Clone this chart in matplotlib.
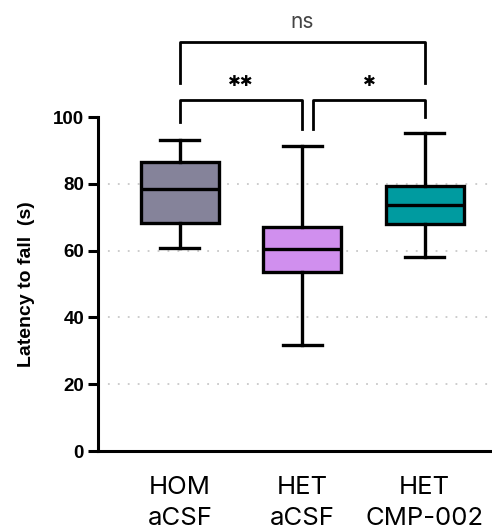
import matplotlib
matplotlib.use("Agg")
import matplotlib.pyplot as plt

groups = ["HOM\naCSF", "HET\naCSF", "HET\nCMP-002"]
whisker_low = [60.7, 31.7, 58.2]
q1 = [68.4, 53.5, 68.0]
median = [78.6, 60.5, 73.6]
q3 = [86.6, 67.2, 79.4]
whisker_high = [93.1, 91.4, 95.1]
colors = ["#85839A", "#D08FEE", "#009BA0"]

# significance brackets: (x1, x2, y_top, left leg end, right leg end, label)
brackets = [
    (0, 1, 105.1, 98.5, 96.4, "✱✱"),
    (1.09, 2, 105.1, 96.4, 100.0, "✱"),
    (0, 2, 122.5, 110.2, 110.2, "ns"),
]

fig = plt.figure(figsize=(4.92, 5.32), dpi=100)
ax = fig.add_axes([0.199, 0.152, 0.801, 0.628])

stats = []
for i, g in enumerate(groups):
    stats.append({"label": g, "whislo": whisker_low[i], "q1": q1[i],
                  "med": median[i], "q3": q3[i], "whishi": whisker_high[i],
                  "fliers": []})

lw = 2.4
bp = ax.bxp(stats, positions=range(len(groups)), widths=0.64,
            patch_artist=True, showfliers=False,
            boxprops=dict(linewidth=lw, edgecolor="black"),
            medianprops=dict(linewidth=lw, color="black"),
            whiskerprops=dict(linewidth=lw, color="black"),
            capprops=dict(linewidth=lw, color="black"),
            capwidths=0.32)
for patch, c in zip(bp["boxes"], colors):
    patch.set_facecolor(c)

ax.set_xlim(-0.67, 2.55)
ax.set_ylim(0, 100)
ax.set_yticks([0, 20, 40, 60, 80, 100])
for y in [20, 40, 60, 80]:
    ax.axhline(y, color="#c8c8c8", linestyle=(0, (1, 4.5)), linewidth=1.3,
               zorder=0)

for side in ["top", "right"]:
    ax.spines[side].set_visible(False)
for side in ["left", "bottom"]:
    ax.spines[side].set_linewidth(2.2)

ax.tick_params(axis="y", length=7, width=2.2, labelsize=13.5, pad=3)
ax.tick_params(axis="x", length=0, pad=18)
for lab in ax.get_yticklabels():
    lab.set_fontweight("bold")
    lab.set_family("Liberation Sans")
ax.set_xticklabels(groups, fontsize=18.5, family="Inter", linespacing=1.42)
ax.set_ylabel("Latency to fall  (s)", fontsize=14, fontweight="bold",
              family="Liberation Sans")
ax.yaxis.set_label_coords(-0.16, 0.5)

for x1, x2, ytop, yl, yr, text in brackets:
    ax.plot([x1, x1, x2, x2], [yl, ytop, ytop, yr], color="black",
            linewidth=2.0, clip_on=False)
    if text == "ns":
        ax.text((x1 + x2) / 2, ytop + 3.0, text, ha="center", va="bottom",
                fontsize=15, color="#444444", family="Inter")
    else:
        ax.text((x1 + x2) / 2, 110.6, text, ha="center", va="center",
                fontsize=11, color="black", family="DejaVu Sans")

fig.savefig("out.png", dpi=100)
